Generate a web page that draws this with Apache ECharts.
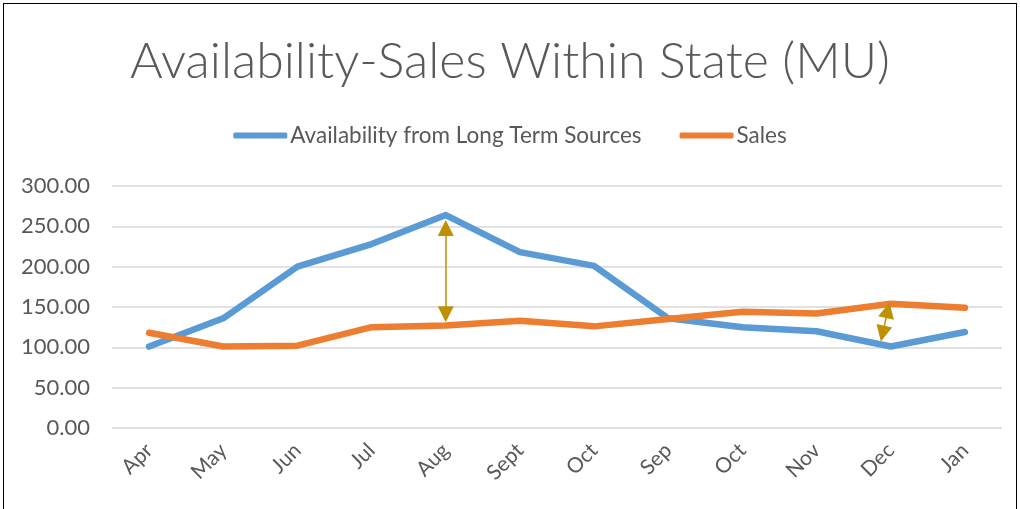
<!DOCTYPE html>
<html>
<head>
<meta charset="utf-8">
<script src="https://cdn.jsdelivr.net/npm/echarts@6/dist/echarts.min.js"></script>
<style>
  body { margin: 0; background: #fff; }
  #wrap { position: relative; width: 1020px; height: 509px; }
  #chart { width: 1020px; height: 509px; }
  #frame { position: absolute; left: 3px; top: 3px; width: 1012px; height: 510px;
           border: 1.5px solid #000; border-bottom: none; pointer-events: none; }
</style>
</head>
<body>
<div id="wrap">
  <div id="chart"></div>
  <div id="frame"></div>
</div>
<script>
var months = ['Apr', 'May', 'Jun', 'Jul', 'Aug', 'Sept', 'Oct', 'Sep', 'Oct', 'Nov', 'Dec', 'Jan'];
var availability = [101, 136, 200, 228, 264, 218, 201, 136, 125, 120, 101, 119];
var sales = [118, 101, 102, 125, 127, 133, 126, 135, 144, 142, 154, 149];
var yTicks = [0, 50, 100, 150, 200, 250, 300];

// gap arrows: [x index, value] for the centre of each arrow head
var gapArrows = [
    [[4, 248], [4, 141]],
    [[9.96, 146], [9.89, 117]]
];

var myChart = echarts.init(document.getElementById('chart'));
var font = 'Lato';

myChart.setOption({
    animation: false,
    title: {
        text: 'Availability-Sales Within State (MU)',
        left: 'center',
        top: 32,
        textStyle: {
            fontFamily: font,
            fontWeight: 300,
            fontSize: 50,
            color: '#595959'
        }
    },
    legend: {
        top: 119,
        left: 'center',
        itemWidth: 54,
        itemHeight: 6,
        itemGap: 38,
        icon: 'roundRect',
        textStyle: { fontFamily: font, fontSize: 22.5, color: '#595959', padding: [0, 0, 0, -2] },
        data: ['Availability from Long Term Sources', 'Sales']
    },
    grid: { left: 112, right: 18, top: 186, bottom: 81, containLabel: false },
    xAxis: [{
        type: 'category',
        data: months,
        boundaryGap: true,
        axisLine: { show: false },
        axisTick: { show: false },
        axisLabel: {
            rotate: 45,
            margin: 19,
            fontFamily: font,
            fontSize: 21,
            color: '#595959'
        }
    }, {
        type: 'value',
        min: -0.5,
        max: 11.5,
        show: false
    }],
    yAxis: {
        type: 'value',
        min: yTicks[0],
        max: yTicks[yTicks.length - 1],
        interval: 50,
        axisLine: { show: false },
        axisTick: { show: false },
        axisLabel: {
            margin: 22,
            fontFamily: font,
            fontSize: 22,
            color: '#595959',
            formatter: function (v) { return v.toFixed(2); }
        },
        splitLine: { lineStyle: { color: '#d9d9d9', width: 1.5 } }
    },
    series: [{
        name: 'Availability from Long Term Sources',
        type: 'line',
        data: availability,
        showSymbol: false,
        itemStyle: { color: '#5b9bd5' },
        lineStyle: { color: '#5b9bd5', width: 6.5, cap: 'round', join: 'round' }
    }, {
        name: 'Sales',
        type: 'line',
        data: sales,
        showSymbol: false,
        itemStyle: { color: '#ed7d31' },
        lineStyle: { color: '#ed7d31', width: 6.5, cap: 'round', join: 'round' }
    }, {
        name: 'gap',
        type: 'lines',
        coordinateSystem: 'cartesian2d',
        xAxisIndex: 1,
        yAxisIndex: 0,
        z: 5,
        symbol: ['triangle', 'triangle'],
        symbolSize: [16, 16],
        lineStyle: { color: '#bf9000', width: 1.5, opacity: 1 },
        itemStyle: { color: '#bf9000' },
        data: gapArrows.map(function (a) { return { coords: a }; })
    }]
});
</script>
</body>
</html>
